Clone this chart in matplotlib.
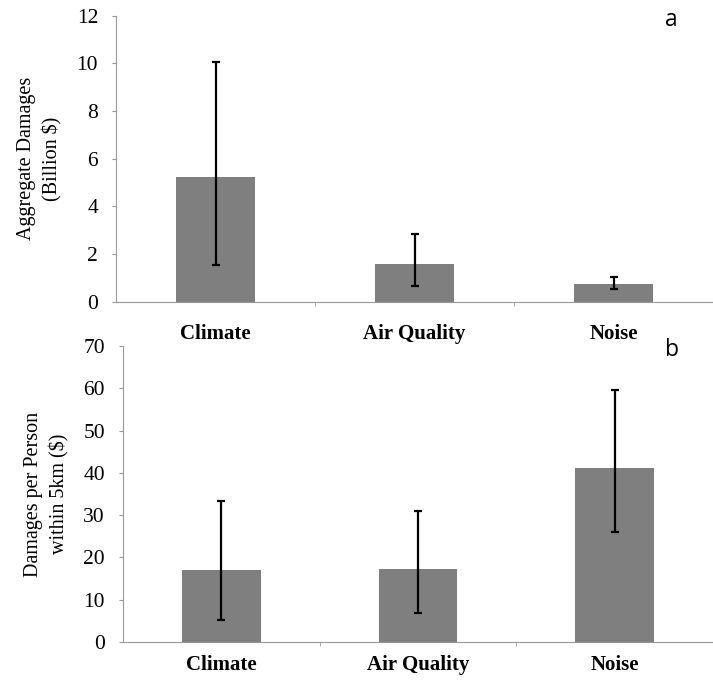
import numpy as np
import matplotlib.pyplot as plt

categories = ['Climate', 'Air Quality', 'Noise']

# panel a: aggregate damages (billion $)
agg_vals = [5.22, 1.59, 0.76]
agg_low = [1.55, 0.67, 0.55]
agg_high = [10.05, 2.85, 1.05]

# panel b: damages per person within 5 km ($)
pp_vals = [17.0, 17.3, 41.1]
pp_low = [5.2, 6.9, 26.0]
pp_high = [33.4, 31.0, 59.7]

bar_color = '#7f7f7f'
serif = ['Liberation Serif', 'DejaVu Serif']

fig = plt.figure(figsize=(7.13, 6.83), dpi=100)
ax_a = fig.add_axes([0.163, 0.558, 0.837, 0.419])
ax_b = fig.add_axes([0.1725, 0.060, 0.8275, 0.4334])


def draw_panel(ax, vals, low, high, ymax, step, ylabel, tag, xpad):
    x = np.arange(len(categories))
    yerr = [np.array(vals) - np.array(low), np.array(high) - np.array(vals)]
    ax.bar(x, vals, width=0.4, color=bar_color, zorder=2)
    ax.errorbar(x, vals, yerr=yerr, fmt='none', ecolor='black',
                elinewidth=1.6, capsize=2.8, capthick=1.6, zorder=3)
    ax.set_xlim(-0.5, 2.5)
    ax.set_ylim(0, ymax)
    ax.set_yticks(np.arange(0, ymax + 1, step))
    ax.set_xticks(x)
    ax.set_xticks([0.5, 1.5], minor=True)
    ax.set_xticklabels(categories, fontfamily=serif, fontweight='bold',
                       fontsize=15)
    for lab in ax.get_yticklabels():
        lab.set_fontfamily(serif)
        lab.set_fontsize(15.5)
    ax.tick_params(axis='x', which='major', length=0, pad=xpad)
    ax.tick_params(axis='x', which='minor', length=3, color='#999999')
    ax.tick_params(axis='y', length=3, color='#999999', pad=10)
    for side in ['top', 'right']:
        ax.spines[side].set_visible(False)
    for side in ['left', 'bottom']:
        ax.spines[side].set_color('#999999')
        ax.spines[side].set_linewidth(0.8)
    ax.set_ylabel(ylabel, fontfamily=serif, fontsize=14.5, labelpad=10,
                  linespacing=1.45)
    ax.text(0.93, 0.985, tag, transform=ax.transAxes, fontsize=16.5,
            fontfamily='Open Sans', ha='center', va='center')


draw_panel(ax_a, agg_vals, agg_low, agg_high, 12, 2,
           'Aggregate Damages\n(Billion $)', 'a', 16)
draw_panel(ax_b, pp_vals, pp_low, pp_high, 70, 10,
           'Damages per Person\nwithin 5km ($)', 'b', 9)

fig.savefig('out.png', dpi=100)
